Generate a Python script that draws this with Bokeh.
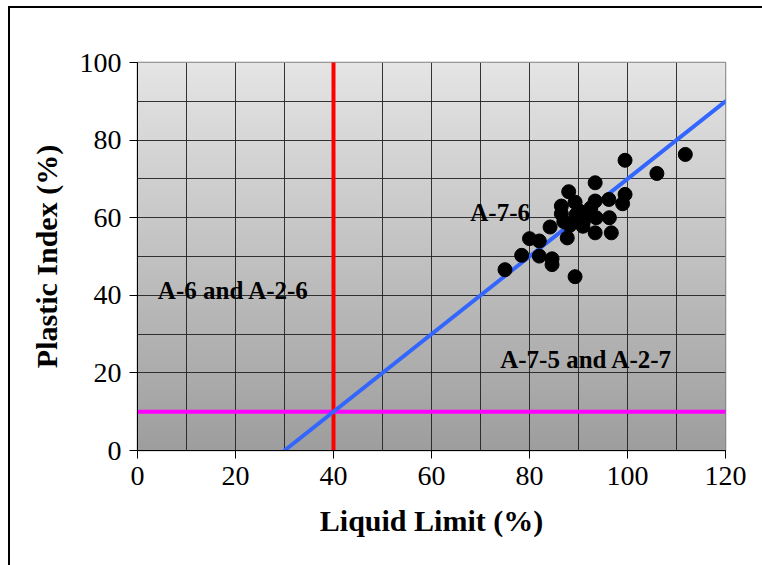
import numpy as np
from bokeh.plotting import figure
from bokeh.models import FixedTicker
from bokeh.embed import file_html
from bokeh.resources import INLINE
from bokeh.core.properties import value

# ---- data ----
liquid_limit = [75.0, 78.4, 80.0, 82.0, 82.0, 84.6, 84.6, 84.2, 87.7, 88.0,
                86.5, 86.5, 89.3, 89.3, 89.5, 90.9, 91.6, 93.4, 93.4, 93.6,
                93.4, 96.2, 96.3, 96.7, 99.5, 99.5, 99.0, 106.0, 111.8, 90.2,
                88.2, 91.0, 87.0, 92.5]
plastic_index = [46.6, 50.3, 54.6, 54.0, 50.1, 49.4, 47.9, 57.6, 54.8, 66.7,
                 63.0, 61.0, 64.0, 44.8, 60.8, 57.8, 60.8, 69.0, 64.3, 60.0,
                 56.1, 64.7, 60.0, 56.1, 74.8, 66.0, 63.6, 71.4, 76.3, 61.7,
                 58.0, 59.0, 59.0, 62.5]

ll_boundary = 40          # vertical red line (LL = 40)
pi_boundary = 10          # horizontal magenta line (PI = 10)
a_line_x = [30, 120]      # blue line PI = LL - 30
a_line_y = [0, 90]

x_ticks = [0, 20, 40, 60, 80, 100, 120]
y_ticks = [0, 20, 40, 60, 80, 100]
x_grid = list(range(0, 121, 10))
y_grid = list(range(0, 101, 10))

region_labels = ["A-7-6", "A-6 and A-2-6", "A-7-5 and A-2-7"]
region_x = [74.0, 19.6, 91.6]
region_y = [61.3, 41.2, 23.5]

X_MIN, X_MAX = 0, 120
Y_MIN, Y_MAX = 0, 100

p = figure(frame_width=588, frame_height=388,
           x_range=(X_MIN, X_MAX), y_range=(Y_MIN, Y_MAX),
           output_backend="svg", toolbar_location=None,
           min_border_left=127, min_border_right=37,
           min_border_top=54, min_border_bottom=115,
           background_fill_color="#c0c0c0", border_fill_color="white")
p.styles = {"margin-left": "8px", "margin-top": "6px",
            "border-left": "2px solid black", "border-top": "2px solid black",
            "border-right": "none", "border-bottom": "none"}

# vertical gradient background
n = 200
t = np.linspace(0, 1, n)
g = (158 + (229 - 158) * t).astype(np.uint32)
img = (255 << 24) | (g << 16) | (g << 8) | g
img = img.reshape(n, 1).astype(np.uint32)
p.image_rgba(image=[img], x=X_MIN, y=Y_MIN, dw=X_MAX - X_MIN, dh=Y_MAX - Y_MIN, level="image")

# grid
p.xgrid.ticker = FixedTicker(ticks=x_grid)
p.ygrid.ticker = FixedTicker(ticks=y_grid)
for gr in (p.xgrid, p.ygrid):
    gr.grid_line_color = "#202020"
    gr.grid_line_width = 1
    gr.grid_line_alpha = 0.9

p.outline_line_color = "#808080"
p.outline_line_width = 1.5

# boundary lines
p.line(x=[ll_boundary, ll_boundary], y=[Y_MIN, Y_MAX], line_color="#ff0000", line_width=4, line_cap="round")
p.line(x=[X_MIN, X_MAX], y=[pi_boundary, pi_boundary], line_color="#ff00ff", line_width=4, line_cap="round")
p.line(x=a_line_x, y=a_line_y, line_color="#3366ff", line_width=4, line_cap="round")

# data points
p.scatter(x=liquid_limit, y=plastic_index, size=14, fill_color="black", line_color="black")

# region labels
p.text(x=region_x, y=region_y, text=region_labels,
       text_font=value("Liberation Serif"), text_font_style="bold",
       text_font_size="25px", text_align="center", text_baseline="middle",
       text_color="black")

# axes
p.xaxis.ticker = FixedTicker(ticks=x_ticks)
p.yaxis.ticker = FixedTicker(ticks=y_ticks)
p.xaxis.axis_label = "Liquid Limit (%)"
p.yaxis.axis_label = "Plastic Index (%)"
for ax in (p.xaxis, p.yaxis):
    ax.axis_label_text_font = "Liberation Serif"
    ax.axis_label_text_font_style = "bold"
    ax.axis_label_text_font_size = "30px"
    ax.axis_label_text_color = "black"
    ax.major_label_text_font = "Liberation Serif"
    ax.major_label_text_font_size = "28px"
    ax.major_label_text_color = "black"
    ax.axis_line_color = "black"
    ax.major_tick_line_color = "black"
    ax.major_tick_out = 8
    ax.major_tick_in = 0
    ax.minor_tick_line_color = None
    ax.major_label_standoff = 8
p.xaxis.axis_label_standoff = 16
p.yaxis.axis_label_standoff = 14

open("out.html", "w").write(file_html(p, INLINE))
